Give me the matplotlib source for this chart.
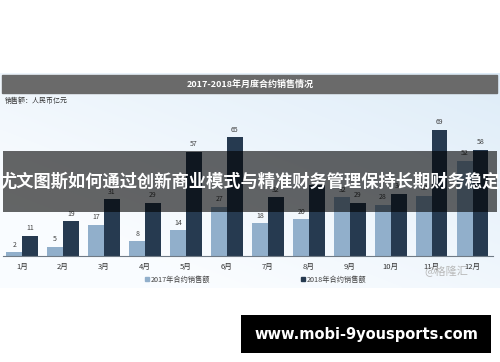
import numpy as np
import matplotlib
matplotlib.use("Agg")
import matplotlib.pyplot as plt
from matplotlib.patches import Rectangle

plt.rcParams['font.family'] = ['Noto Sans CJK SC', 'DejaVu Sans']

months = ['1月', '2月', '3月', '4月', '5月', '6月', '7月', '8月', '9月', '10月', '11月', '12月']
sales_2017 = [2, 5, 17, 8, 14, 27, 18, 20, 32, 28, 33, 52]
sales_2018 = [11, 19, 31, 29, 57, 65, 32, 39, 29, 34, 69, 58]
series_names = ['2017年合约销售额', '2018年合约销售额']
title = '2017-2018年月度合约销售情况'
unit_text = '销售额：人民币亿元'
banner_text = '尤文图斯如何通过创新商业模式与精准财务管理保持长期财务稳定'
url_text = 'www.mobi-9yousports.com'
watermark = '@格隆汇'

c2017 = '#91afcb'
c2018 = '#263a50'

W, H = 500, 362
fig = plt.figure(figsize=(W / 100, H / 100), dpi=100)
fig.patch.set_facecolor('white')

# background gradient panel
bg = fig.add_axes([0, 0, 1, 1], zorder=0)
bg.set_xlim(0, W)
bg.set_ylim(H, 0)
bg.axis('off')
nx, ny = 200, 100
xx, yy = np.meshgrid(np.linspace(0, 1, nx), np.linspace(0, 1, ny))
t = np.clip(0.55 * xx + 0.6 * (1 - yy) - 0.25, 0, 1)
top = np.array([0.86, 0.92, 0.97])
white = np.array([0.98, 0.99, 1.0])
img = white[None, None, :] * (1 - t[..., None]) + top[None, None, :] * t[..., None]
bg.imshow(img, extent=[0, W, 288, 73], aspect='auto', interpolation='bilinear')

# bar axes
left_px, right_px = 3, 493
top_px, base_px = 100, 256
ax = fig.add_axes([left_px / W, (H - base_px) / H, (right_px - left_px) / W, (base_px - top_px) / H], zorder=1)
ax.patch.set_alpha(0)
x = np.arange(len(months))
bw = 0.38
b1 = ax.bar(x - bw / 2, sales_2017, bw, color=c2017, label=series_names[0])
b2 = ax.bar(x + bw / 2, sales_2018, bw, color=c2018, label=series_names[1])
ax.set_xlim(-0.463, 11.49)
ax.set_ylim(0, 85.2)
for s in ['top', 'right', 'left']:
    ax.spines[s].set_visible(False)
ax.spines['bottom'].set_color('#6f7a85')
ax.spines['bottom'].set_linewidth(0.8)
ax.set_yticks([])
ax.set_xticks(x)
ax.set_xticklabels(months, fontsize=5.5, color='#333333')
ax.tick_params(axis='x', length=0, pad=5)
for bars, vals in ((b1, sales_2017), (b2, sales_2018)):
    for r, v in zip(bars, vals):
        ax.annotate(str(v), (r.get_x() + r.get_width() / 2, v), xytext=(0, 2.5),
                    textcoords='offset points', ha='center', va='bottom',
                    fontsize=5, color='#404040')

# overlay decorations
ov = fig.add_axes([0, 0, 1, 1], zorder=3)
ov.set_xlim(0, W)
ov.set_ylim(H, 0)
ov.axis('off')
ov.patch.set_alpha(0)
ov.add_patch(Rectangle((2, 75), 495, 18, color='#6a6a6a'))
ov.text(250, 84, title, ha='center', va='center', fontsize=6.5, color='white', fontweight='bold')
ov.text(5, 100.5, unit_text, ha='left', va='center', fontsize=5, color='#333333')

# legend
ov.add_patch(Rectangle((145, 277), 4, 4, color=c2017))
ov.text(150.5, 279.5, series_names[0], ha='left', va='center', fontsize=5.2, color='#444444')
ov.add_patch(Rectangle((301, 277), 4, 4, color=c2018))
ov.text(306.5, 279.5, series_names[1], ha='left', va='center', fontsize=5.2, color='#444444')

ov.text(446, 271, watermark, ha='center', va='center', fontsize=8, color='#b8b8b8')

# banner overlay
ov.add_patch(Rectangle((3, 151), 494, 61, color='black', alpha=0.6, lw=0))
ov.text(250, 181.5, banner_text, ha='center', va='center', fontsize=12.4, color='white', fontweight='bold')

# url box
ov.add_patch(Rectangle((241, 315), 250, 38, color='black', lw=0))
ov.text(366, 334, url_text, ha='center', va='center', fontsize=10.5, color='white',
        fontweight='bold', family=['DejaVu Sans'])

fig.savefig('out.png', dpi=100, facecolor='white')
